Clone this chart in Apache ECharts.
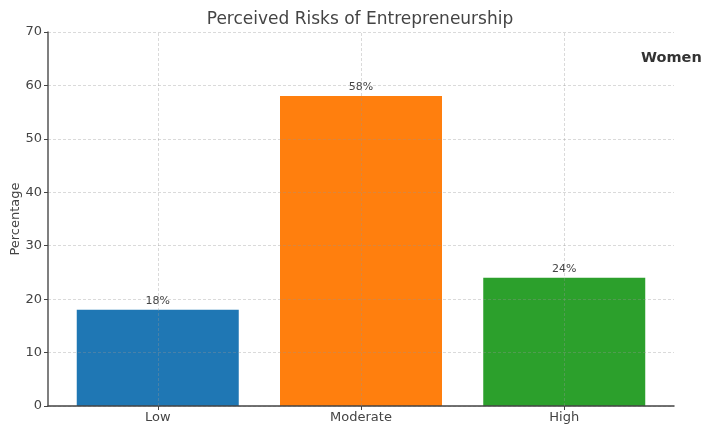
<!DOCTYPE html>
<html>
<head>
<meta charset="utf-8">
<script src="https://cdn.jsdelivr.net/npm/echarts@6/dist/echarts.min.js"></script>
<style>
html,body{margin:0;padding:0;background:#fff;}
#chart{width:704px;height:426px;}
</style>
</head>
<body>
<div id="chart"></div>
<script>
const titleText = "Perceived Risks of Entrepreneurship";
const categories = ["Low", "Moderate", "High"];
const values = [18, 58, 24];
const barColors = ["#1f77b4", "#ff7f0e", "#2ca02c"];
const yTicks = [0, 10, 20, 30, 40, 50, 60, 70];
const yAxisName = "Percentage";
const sideLabel = "Women";

const font = "DejaVu Sans";
const gridColor = 'rgba(150,150,150,0.35)';
const catIdx = categories.map((c, i) => i);
const chart = echarts.init(document.getElementById('chart'), null, {renderer: 'canvas'});
chart.setOption({
  backgroundColor: '#ffffff',
  animation: false,
  textStyle: {fontFamily: font},
  title: [{
    text: titleText, left: 360, top: 11, textAlign: 'center', padding: 0,
    textStyle: {fontFamily: font, fontSize: 17, fontWeight: 'normal', color: '#444'}
  }, {
    text: sideLabel, left: 641, top: 51, padding: 0,
    textStyle: {fontFamily: font, fontSize: 14.5, fontWeight: 'bold', color: '#333'}
  }],
  grid: {left: 48, right: 30, top: 32, bottom: 20, containLabel: false, outerBoundsMode: 'none'},
  xAxis: {
    type: 'value', min: -0.54, max: 2.54, z: 5,
    axisLine: {show: true, onZero: false, lineStyle: {color: '#444', width: 1.5}},
    axisTick: {show: true, customValues: catIdx, length: 4, lineStyle: {color: '#444'}},
    axisLabel: {show: true, customValues: catIdx, fontFamily: font, fontSize: 13, color: '#444', margin: 5,
      formatter: v => categories[Math.round(v)] || ''},
    splitLine: {show: false}
  },
  yAxis: {
    type: 'value', min: 0, max: 70, interval: 10, z: 5,
    name: yAxisName, nameLocation: 'middle', nameGap: 26, nameMoveOverlap: false,
    nameTextStyle: {fontFamily: font, fontSize: 13, color: '#444'},
    axisLine: {show: true, onZero: false, lineStyle: {color: '#555', width: 1.5}},
    axisTick: {show: true, length: 4, lineStyle: {color: '#444'}},
    axisLabel: {fontFamily: font, fontSize: 13, color: '#444', margin: 6,
      formatter: v => yTicks.includes(v) ? String(v) : ''},
    splitLine: {show: true, lineStyle: {color: gridColor, type: [3, 2], width: 1}}
  },
  series: [{
    type: 'bar', barWidth: 162, z: 2,
    data: values.map((v, i) => ({value: [i, v], itemStyle: {color: barColors[i]}})),
    label: {show: true, position: 'top', distance: 3, formatter: p => p.value[1] + '%',
      fontFamily: font, fontSize: 11, color: '#444'},
    markLine: {
      silent: true, symbol: 'none', z: 6,
      label: {show: false},
      lineStyle: {color: gridColor, type: [3, 2], width: 1},
      data: catIdx.map(i => ({xAxis: i}))
    }
  }]
});
</script>
</body>
</html>
